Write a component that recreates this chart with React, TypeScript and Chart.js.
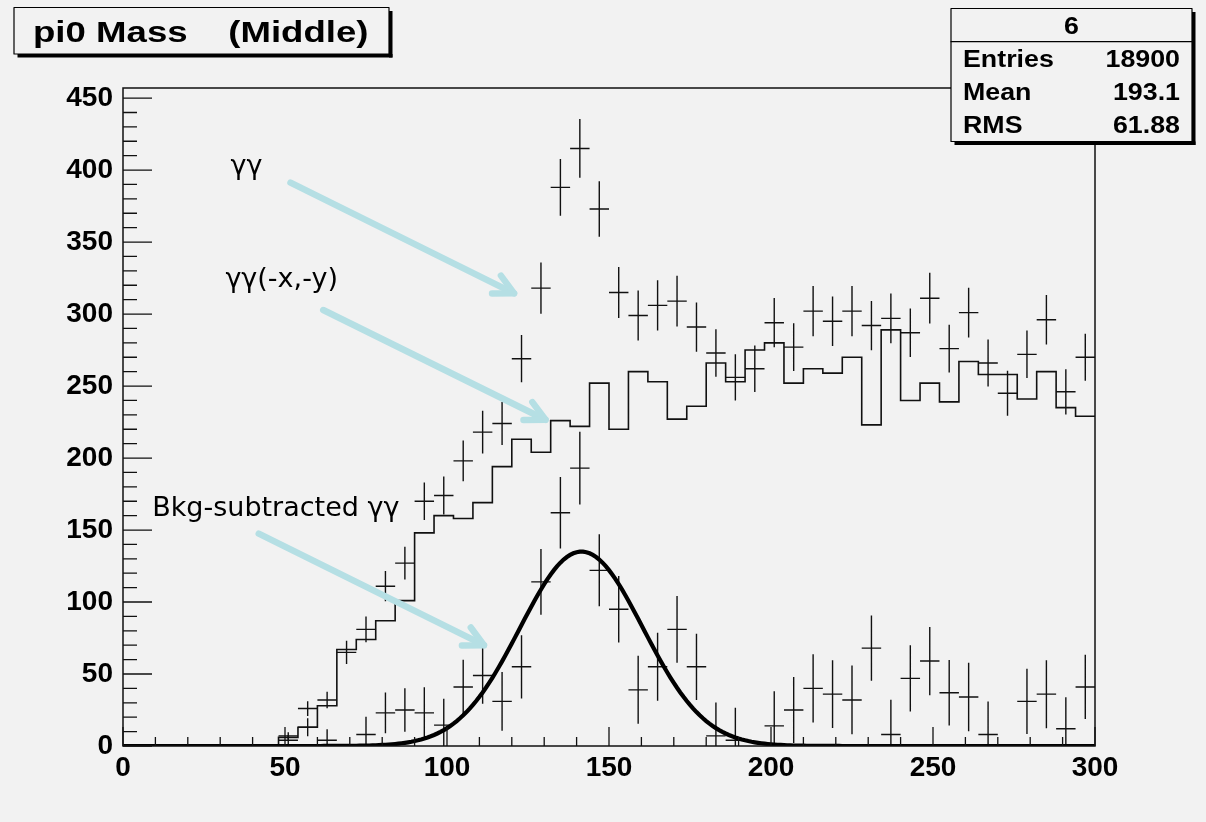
import React, { useEffect, useRef } from 'react';
import { Chart, registerables } from 'chart.js';

Chart.register(...registerables);

// ---------------- data ----------------
const BIN_WIDTH = 6; // histogram: 50 bins over 0..300
const X_MIN = 0;
const X_MAX = 300;
const Y_MIN = 0;
const Y_MAX = 457;
const X_MAJOR = 50;
const X_MINOR = 10;
const Y_MAJOR = 50;
const Y_MINOR = 10;

// γγ (points with error bars)
const ggCounts = [null, null, null, null, null, null, null, null,
  7, 26, 32, 65, 81, 111, 127, 170, 174, 198,
  218, 224, 269, 318, 388, 415, 373, 315, 299, 306,
  309, 291, 273, 256, 262, 294, 277, 302, 295, 302,
  292, 297, 287, 311, 276, 301, 266, 245, 272, 296,
  246, 270];
const ggErrors = [0, 0, 0, 0, 0, 0, 0, 0,
  2.6, 5.1, 5.7, 8.1, 9.0, 10.5, 11.3, 13.0, 13.2, 14.1,
  14.8, 15.0, 16.4, 17.8, 19.7, 20.4, 19.3, 17.7, 17.3, 17.5,
  17.6, 17.1, 16.5, 16.0, 16.2, 17.1, 16.6, 17.4, 17.2, 17.4,
  17.1, 17.2, 16.9, 17.6, 16.6, 17.3, 16.3, 15.7, 16.5, 17.2,
  15.7, 16.4];

// γγ(-x,-y) (step histogram)
const bkgCounts = [0, 0, 0, 0, 0, 0, 0, 0,
  6, 13, 28, 67, 74, 87, 101, 148, 160, 158,
  169, 194, 213, 204, 226, 222, 252, 220, 260, 253,
  227, 236, 266, 253, 275, 280, 252, 262, 259, 270,
  223, 289, 240, 252, 239, 267, 258, 258, 241, 260,
  235, 229];

// Bkg-subtracted γγ (points with error bars; negative bins fall below the frame)
const subCounts = [null, null, null, null, null, null, null, null,
  4, 13, 4, -2, 8, 23, 25, 23, 14.5, 41,
  49, 31, 55, 114, 162, 193, 122, 95, 39, 55,
  81, 55, 7, 4, -13, 14, 25, 40, 36, 32,
  68, 8, 47, 59, 37, 34, 8, -13, 31, 36,
  12, 41];
const subErrors = [0, 0, 0, 0, 0, 0, 0, 0,
  3.6, 6.2, 7.7, 11.5, 12.4, 14.1, 15.1, 17.8, 18.3, 18.9,
  19.7, 20.4, 22.0, 22.8, 24.8, 25.2, 25.0, 23.1, 23.6, 23.6,
  23.2, 23.0, 23.2, 22.6, 23.2, 24.0, 23.0, 23.7, 23.5, 23.9,
  22.7, 24.2, 23.0, 23.7, 22.7, 23.8, 22.9, 22.4, 22.6, 23.6,
  21.9, 22.3];

// Gaussian fit (TF1 "gaus") parameters
const fitConstant = 135;
const fitMean = 141.5;
const fitSigma = 19;

// texts
const titleText = 'pi0 Mass    (Middle)';
const statsTitle = '6';
const statsLabels = ['Entries', 'Mean', 'RMS'];
const statsValues = ['18900', '193.1', '61.88'];

// annotations (in data coordinates)
const annotationTexts = [
  { text: 'γγ', x: 33.2, y: 397 },
  { text: 'γγ(-x,-y)', x: 31.6, y: 318.5 },
  { text: 'Bkg-subtracted γγ', x: 9.0, y: 159.5 },
];
const annotationArrows = [
  { from: [51.7, 391.3], to: [120.7, 314.4] },
  { from: [61.8, 302.8], to: [130.4, 226.6] },
  { from: [41.9, 147.5], to: [111.4, 70.0] },
];

// ---------------- styling ----------------
const BG = '#f2f2f2';
const INK = '#111111';
const ARROW_COLOR = '#b5dfe4';
const AXIS_FONT = 'Liberation Sans, Arial, Helvetica, sans-serif';
const NOTE_FONT = 'DejaVu Sans, sans-serif';

const bgPlugin = {
  id: 'bg',
  beforeDraw(chart: any) {
    const { ctx, width, height } = chart;
    ctx.save();
    ctx.fillStyle = BG;
    ctx.fillRect(0, 0, width, height);
    ctx.restore();
  },
};

const crossPlugin = {
  id: 'errorCrosses',
  afterDatasetDraw(chart: any, args: any) {
    const ds: any = chart.data.datasets[args.index];
    if (!ds.errors) return;
    const { ctx, chartArea: a, scales } = chart;
    const x = scales.x;
    const y = scales.y;
    ctx.save();
    ctx.beginPath();
    ctx.rect(a.left, a.top, a.right - a.left, a.bottom - a.top);
    ctx.clip();
    ctx.strokeStyle = INK;
    ctx.lineWidth = 1.4;
    ctx.beginPath();
    ds.data.forEach((p: any, i: number) => {
      if (p.y == null || p.y < 0) return;
      const e = ds.errors[i];
      const xc = x.getPixelForValue(p.x);
      const xl = x.getPixelForValue(p.x - BIN_WIDTH / 2);
      const xr = x.getPixelForValue(p.x + BIN_WIDTH / 2);
      const yc = y.getPixelForValue(p.y);
      ctx.moveTo(xl, yc);
      ctx.lineTo(xr, yc);
      ctx.moveTo(xc, y.getPixelForValue(p.y + e));
      ctx.lineTo(xc, y.getPixelForValue(Math.max(Y_MIN, p.y - e)));
    });
    ctx.stroke();
    ctx.restore();
  },
};

function drawScaledText(ctx: any, text: string, x: number, y: number, sx: number, align: string) {
  ctx.save();
  ctx.translate(x, y);
  ctx.scale(sx, 1);
  ctx.textAlign = align;
  ctx.textBaseline = 'alphabetic';
  ctx.fillText(text, 0, 0);
  ctx.restore();
}

function drawShadowBox(ctx: any, l: number, t: number, r: number, b: number, sh: number) {
  ctx.fillStyle = '#000';
  ctx.fillRect(l + sh, b, r - l, sh);
  ctx.fillRect(r, t + sh, sh, b - t);
  ctx.fillStyle = BG;
  ctx.fillRect(l, t, r - l, b - t);
  ctx.strokeStyle = '#000';
  ctx.lineWidth = 1.2;
  ctx.strokeRect(l, t, r - l, b - t);
}

const framePlugin = {
  id: 'frame',
  afterDraw(chart: any) {
    const { ctx, chartArea: a, scales } = chart;
    const x = scales.x;
    const y = scales.y;
    ctx.save();
    // frame
    ctx.strokeStyle = INK;
    ctx.lineWidth = 1.5;
    ctx.strokeRect(a.left, a.top, a.right - a.left, a.bottom - a.top);
    // inside ticks
    ctx.lineWidth = 1.3;
    ctx.beginPath();
    for (let v = X_MIN; v <= X_MAX + 1e-9; v += X_MINOR) {
      const px = x.getPixelForValue(v);
      const len = v % X_MAJOR === 0 ? 19 : 9;
      ctx.moveTo(px, a.bottom);
      ctx.lineTo(px, a.bottom - len);
    }
    for (let v = Y_MIN; v <= Y_MAX + 1e-9; v += Y_MINOR) {
      const py = y.getPixelForValue(v);
      const len = v % Y_MAJOR === 0 ? 29 : 14;
      ctx.moveTo(a.left, py);
      ctx.lineTo(a.left + len, py);
    }
    ctx.stroke();

    // annotation arrows
    ctx.strokeStyle = ARROW_COLOR;
    ctx.lineWidth = 6.5;
    ctx.lineCap = 'round';
    ctx.lineJoin = 'round';
    annotationArrows.forEach((ar) => {
      const x0 = x.getPixelForValue(ar.from[0]);
      const y0 = y.getPixelForValue(ar.from[1]);
      const x1 = x.getPixelForValue(ar.to[0]);
      const y1 = y.getPixelForValue(ar.to[1]);
      const ang = Math.atan2(y1 - y0, x1 - x0);
      const head = 22;
      const spread = (27 * Math.PI) / 180;
      ctx.beginPath();
      ctx.moveTo(x0, y0);
      ctx.lineTo(x1, y1);
      ctx.stroke();
      ctx.beginPath();
      ctx.moveTo(x1 - head * Math.cos(ang - spread), y1 - head * Math.sin(ang - spread));
      ctx.lineTo(x1, y1);
      ctx.lineTo(x1 - head * Math.cos(ang + spread), y1 - head * Math.sin(ang + spread));
      ctx.stroke();
    });

    // annotation texts
    ctx.fillStyle = '#000';
    ctx.font = `27px ${NOTE_FONT}`;
    ctx.textAlign = 'left';
    ctx.textBaseline = 'alphabetic';
    annotationTexts.forEach((t) => {
      ctx.fillText(t.text, x.getPixelForValue(t.x), y.getPixelForValue(t.y));
    });

    // title box
    drawShadowBox(ctx, 14, 7.5, 389, 54, 3.5);
    ctx.fillStyle = '#000';
    ctx.font = `bold 30px ${AXIS_FONT}`;
    drawScaledText(ctx, titleText, 33, 42, 1.22, 'left');

    // stats box
    drawShadowBox(ctx, 951, 8.5, 1192, 141.5, 3.5);
    ctx.strokeStyle = '#000';
    ctx.lineWidth = 1.2;
    ctx.beginPath();
    ctx.moveTo(951, 41.7);
    ctx.lineTo(1192, 41.7);
    ctx.stroke();
    ctx.fillStyle = '#000';
    ctx.font = `bold 23.5px ${AXIS_FONT}`;
    drawScaledText(ctx, statsTitle, 1071.5, 33.5, 1.14, 'center');
    statsLabels.forEach((lab, i) => {
      const base = 67 + i * 33;
      drawScaledText(ctx, lab, 963, base, 1.14, 'left');
      drawScaledText(ctx, statsValues[i], 1180, base, 1.14, 'right');
    });
    ctx.restore();
  },
};

export default function App() {
  const ref = useRef<HTMLCanvasElement>(null);
  useEffect(() => {
    const canvas = ref.current;
    if (!canvas) return;
    const centers = ggCounts.map((_, i) => X_MIN + i * BIN_WIDTH + BIN_WIDTH / 2);
    const pts = (vals: any[]) => vals.map((v, i) => ({ x: centers[i], y: v }));
    const histPts = bkgCounts
      .map((v, i) => ({ x: X_MIN + i * BIN_WIDTH, y: v }))
      .concat([{ x: X_MAX, y: bkgCounts[bkgCounts.length - 1] }]);
    const fitPts: { x: number; y: number }[] = [];
    for (let xv = X_MIN; xv <= X_MAX; xv += 1) {
      fitPts.push({ x: xv, y: fitConstant * Math.exp(-0.5 * ((xv - fitMean) / fitSigma) ** 2) });
    }
    const tickFont = { family: AXIS_FONT, size: 28, weight: 'bold' as const };
    const chart = new Chart(canvas, {
      type: 'line',
      data: {
        datasets: [
          { label: 'gaus fit', data: fitPts, borderColor: '#000', borderWidth: 4.2, pointRadius: 0, tension: 0, order: 0 } as any,
          { label: 'Bkg-subtracted γγ', data: pts(subCounts), errors: subErrors, showLine: false, pointRadius: 0, order: 1 } as any,
          { label: 'γγ(-x,-y)', data: histPts, stepped: true, borderColor: INK, borderWidth: 1.6, pointRadius: 0, order: 2 } as any,
          { label: 'γγ', data: pts(ggCounts), errors: ggErrors, showLine: false, pointRadius: 0, order: 3 } as any,
        ],
      },
      options: {
        animation: false,
        responsive: false,
        devicePixelRatio: 1,
        events: [],
        layout: { padding: { left: 0, top: 88, right: 111, bottom: 0 } },
        plugins: { legend: { display: false }, tooltip: { enabled: false }, title: { display: false } },
        scales: {
          x: {
            type: 'linear',
            min: X_MIN,
            max: X_MAX,
            grid: { display: false, drawTicks: false },
            border: { display: false },
            ticks: { stepSize: X_MAJOR, font: tickFont, color: '#000', padding: 5, maxRotation: 0, autoSkip: false },
            afterBuildTicks: (s: any) => {
              const t: any[] = [];
              for (let v = X_MIN; v <= X_MAX + 1e-9; v += X_MAJOR) t.push({ value: v });
              s.ticks = t;
            },
            afterFit: (s: any) => { s.height = 76; },
          },
          y: {
            type: 'linear',
            min: Y_MIN,
            max: Y_MAX,
            grid: { display: false, drawTicks: false },
            border: { display: false },
            ticks: { stepSize: Y_MAJOR, font: tickFont, color: '#000', padding: 10, autoSkip: false },
            afterBuildTicks: (s: any) => {
              const t: any[] = [];
              for (let v = Y_MIN; v <= Y_MAX + 1e-9; v += Y_MAJOR) t.push({ value: v });
              s.ticks = t;
            },
            afterFit: (s: any) => { s.width = 123; },
          },
        },
      } as any,
      plugins: [bgPlugin, crossPlugin, framePlugin],
    });
    return () => chart.destroy();
  }, []);
  return (
    <div style={{ position: 'fixed', left: 0, top: 0, width: 1206, height: 822, background: BG }}>
      <canvas ref={ref} width={1206} height={822} style={{ display: 'block' }} />
    </div>
  );
}
